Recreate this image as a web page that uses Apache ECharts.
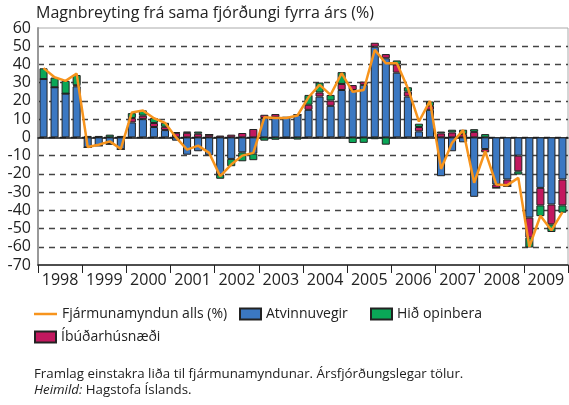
<!DOCTYPE html>
<html lang="is">
<head>
    <meta charset="UTF-8">
    <title>Fjármunamyndun</title>
    <script src="https://cdn.jsdelivr.net/npm/echarts@6/dist/echarts.min.js"></script>
    <style>
        * { margin: 0; padding: 0; }
        html, body { width: 569px; height: 405px; background: #fff; }
        #chart { width: 569px; height: 405px; }
    </style>
</head>
<body>
<div id="chart"></div>
<script>
  // year labels on the axis, four quarters per year
  const years = ['1998', '1999', '2000', '2001', '2002', '2003', '2004', '2005', '2006', '2007', '2008', '2009']
  const quarters = []
  years.forEach(y => { for (let q = 1; q <= 4; q++) quarters.push(y + ' F' + q) })

  // Atvinnuvegir (blue)
  const atvinnuvegir = [
    32, 27.5, 24, 28,
    -5.5, -4.6, -3.7, -6.5,
    8.2, 10, 5.7, 4,
    -1.8, -9.5, -7.6, -9.8,
    -20.4, -11.8, -8.2, -8.9,
    10.6, 11, 11, 12.4,
    15.1, 22.4, 17.3, 26,
    26, 28.8, 49.7, 43.4,
    35.5, 22.4, 3.3, 15.1,
    -21.3, -7.6, -2.7, -32.6,
    -6.4, -25.8, -23.1, -10,
    -44, -27.7, -36.8, -23.1
  ]
  // Íbúðarhúsnæði (magenta)
  const ibudarhusnaedi = [
    0, 0, 0, 0.6,
    0, 0, 0, 0,
    2.4, 1.9, 2.2, 1.8,
    2.5, 2.5, 2, 1.5,
    1, 1.5, 2.4, 4.6,
    1.8, 1.8, 0, 0,
    2.8, 2.2, 2.9, 3.3,
    2.7, 1.8, 2.2, 2.3,
    4.5, 2.7, 2.4, 2.2,
    2.2, 2.7, 1.8, 3,
    -1.8, -1.9, -3.7, -8.6,
    -11, -9.6, -10.9, -14.2
  ]
  // Hið opinbera (green)
  const hidOpinbera = [
    5.9, 5.3, 7, 5.6,
    0.8, 0.8, 1.5, 0.8,
    2.7, 2.9, 2.7, 2.2,
    0.3, 0.7, 1.2, 0,
    -2.3, -4, -4.9, -3.6,
    -1.8, -1.3, -0.5, -1.2,
    5.4, 5.5, 3.1, 6.5,
    -3.1, -3, -1, -4,
    2.2, 2.4, 1.8, 2.4,
    1, 1.5, 2.4, 1.5,
    1.8, 0, 0, -1.8,
    -5.4, -5.9, -4.2, -4
  ]
  // Fjármunamyndun alls (%) (orange line)
  const fjarmunamyndun = [
    38, 33, 31, 35,
    -5.3, -4, -2.2, -6.3,
    13.7, 14.8, 10.5, 8,
    0, -6.7, -4.5, -8.5,
    -21.3, -14.9, -10, -8.5,
    11, 10.6, 10.6, 12,
    22, 28.8, 23.3, 35.2,
    25, 26, 48, 40.7,
    40.7, 27, 8.7, 20,
    -17.3, -3, 4, -24.9,
    -7.6, -25.8, -26.2, -22.2,
    -60, -43, -51, -41
  ]

  const font = "'Open Sans', sans-serif"
  const textColor = '#222'
  const orange = '#f7941d'
  const barBorder = { borderColor: '#222', borderWidth: 1 }

  function legendAt(name, left, top, extra) {
    return Object.assign({
      data: [{ name: name, icon: 'rect' }], left: left, top: top, padding: 0,
      itemWidth: 21, itemHeight: 11, itemGap: 0,
      textStyle: { fontFamily: font, fontSize: 14, color: textColor }
    }, extra || {})
  }

  const chart = echarts.init(document.getElementById('chart'), null, { renderer: 'canvas' })

  chart.setOption({
    animation: false,
    title: {
      text: 'Magnbreyting frá sama fjórðungi fyrra árs (%)',
      left: 36, top: 5, padding: 0,
      textStyle: { fontFamily: font, fontSize: 16, fontWeight: 'normal', color: textColor }
    },
    legend: [
      legendAt('Fjármunamyndun alls (%)', 34, 307, { itemWidth: 23, itemHeight: 2.5 }),
      legendAt('Atvinnuvegir', 239, 307),
      legendAt('Hið opinbera', 370, 307),
      legendAt('Íbúðarhúsnæði', 34, 330)
    ],
    grid: {
      left: 38, right: 1, top: 28, bottom: 140,
      show: true, borderColor: '#aaa', borderWidth: 1
    },
    xAxis: [
      {
        type: 'category',
        data: quarters,
        position: 'bottom',
        axisLine: { onZero: true, lineStyle: { color: '#111', width: 1.5 } },
        axisTick: { show: false },
        axisLabel: { show: false },
        splitLine: { show: false }
      },
      {
        type: 'category',
        data: years,
        position: 'bottom',
        axisLine: { onZero: false, lineStyle: { color: '#222', width: 1.5 } },
        axisTick: { show: true, interval: 0, length: 8, lineStyle: { color: '#222', width: 1 } },
        axisLabel: { interval: 0, margin: 7, fontFamily: font, fontSize: 16, color: textColor },
        splitLine: { show: false }
      }
    ],
    yAxis: {
      type: 'value',
      min: -70, max: 60, interval: 10,
      axisLine: { show: true, lineStyle: { color: '#999', width: 2 } },
      axisTick: { show: false },
      axisLabel: { margin: 7, fontFamily: font, fontSize: 16, color: textColor },
      splitLine: {
        show: true, showMinLine: false, showMaxLine: false,
        lineStyle: { color: '#444', width: 1.3, type: [6, 5] }
      }
    },
    series: [
      {
        name: 'Atvinnuvegir', type: 'bar', stack: 'alls', xAxisIndex: 0,
        barCategoryGap: '27%',
        itemStyle: Object.assign({ color: '#3b78c2' }, barBorder),
        data: atvinnuvegir
      },
      {
        name: 'Íbúðarhúsnæði', type: 'bar', stack: 'alls', xAxisIndex: 0,
        itemStyle: Object.assign({ color: '#c2185f' }, barBorder),
        data: ibudarhusnaedi
      },
      {
        name: 'Hið opinbera', type: 'bar', stack: 'alls', xAxisIndex: 0,
        itemStyle: Object.assign({ color: '#0aa757' }, barBorder),
        data: hidOpinbera
      },
      {
        name: 'Fjármunamyndun alls (%)', type: 'line', xAxisIndex: 0,
        symbol: 'none', z: 5,
        lineStyle: { color: orange, width: 2.5 },
        itemStyle: { color: orange },
        data: fjarmunamyndun
      }
    ],
    graphic: [
      {
        type: 'text', left: 34, top: 368,
        style: {
          text: 'Framlag einstakra liða til fjármunamyndunar. Ársfjórðungslegar tölur.',
          font: '13.3px ' + font, fill: textColor
        }
      },
      {
        type: 'text', left: 34, top: 384,
        style: {
          text: '{i|Heimild:} Hagstofa Íslands.',
          font: '13.3px ' + font, fill: textColor,
          rich: { i: { fontStyle: 'italic', fontFamily: font, fontSize: 13.3, fill: textColor } }
        }
      }
    ]
  })
</script>
</body>
</html>
